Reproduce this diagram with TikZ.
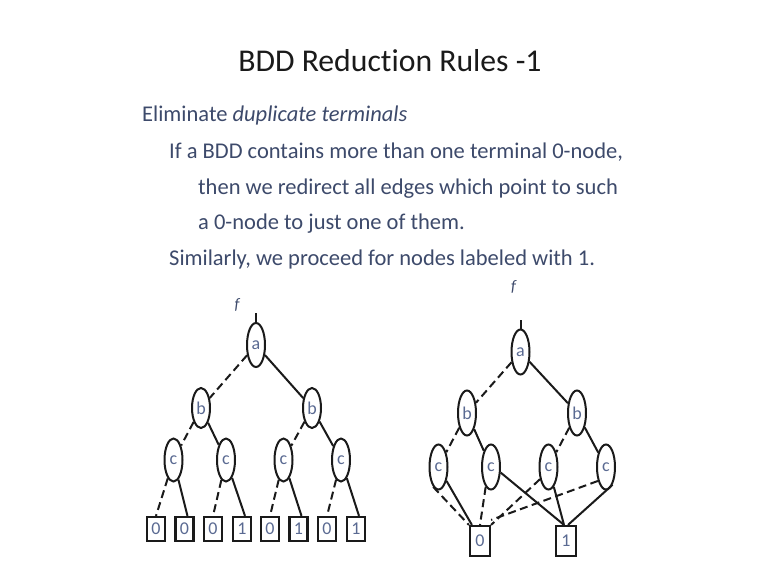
\documentclass[tikz,border=0pt]{standalone}
\usepackage{fontspec}
\setmainfont[Ligatures=NoCommon]{Carlito}
\usetikzlibrary{shapes.geometric}
\definecolor{txt}{HTML}{3D4A6B}
\definecolor{lbl}{HTML}{5A6A92}
\definecolor{ink}{HTML}{1A1A1A}
\tikzset{
  vnode/.style={ellipse, draw=ink, line width=2pt, minimum width=18pt, minimum height=43pt, inner sep=0pt, text=lbl, font=\fontsize{18}{18}\selectfont},
  tnode/.style={rectangle, draw=ink, line width=2.2pt, minimum width=18pt, minimum height=24pt, inner sep=0pt, text=lbl, font=\fontsize{18}{18}\selectfont},
  tnodebig/.style={tnode, minimum width=20pt, minimum height=30pt},
  lo/.style={draw=ink, line width=2pt, dash pattern=on 8pt off 4.5pt},
  hi/.style={draw=ink, line width=2pt},
  body/.style={anchor=base west, text=txt, font=\fontsize{22.5}{22.5}\selectfont, inner sep=0pt},
  flabel/.style={text=txt, font=\fontsize{16}{16}\selectfont\itshape, inner sep=0pt}
}
\begin{document}
\begin{tikzpicture}[x=1pt,y=-1pt]
\useasboundingbox (0,0) rectangle (763,573);
\fill[white] (0,0) rectangle (763,573);
% title and text
\node[anchor=base, text=ink, font=\fontsize{31.7}{32}\selectfont, inner sep=0pt] (title) at (390,71) {BDD Reduction Rules -1};
\node[body] (l1) at (142,121) {Eliminate \textit{duplicate terminals}};
\node[body] (l2) at (169,158) {If a BDD contains more than one terminal 0-node,};
\node[body] (l3) at (198,194) {then we redirect all edges which point to such};
\node[body] (l4) at (198,229) {a 0-node to just one of them.};
\node[body] (l5) at (169,265) {Similarly, we proceed for nodes labeled with 1.};

% ---------- left tree ----------
\node[flabel] (f1) at (237,305) {f};
\coordinate (fa1) at (256,313);
\node[vnode, minimum height=44pt] (a1) at (256,345) {a};
\node[vnode, minimum height=40pt] (b11) at (201,408) {b};
\node[vnode, minimum height=40pt] (b12) at (312,408) {b};
\node[vnode] (c11) at (173.5,460) {c};
\node[vnode] (c12) at (226,460) {c};
\node[vnode] (c13) at (283.5,460) {c};
\node[vnode] (c14) at (341,460) {c};
\node[tnode] (t1) at (156,529) {0};
\node[tnode] (t2) at (184.5,529) {0};
\node[tnode] (t3) at (213,529) {0};
\node[tnode] (t4) at (242,529) {1};
\node[tnode] (t5) at (270,529) {0};
\node[tnode] (t6) at (298.5,529) {1};
\node[tnode] (t7) at (327,529) {0};
\node[tnode] (t8) at (356,529) {1};
\draw[hi] (fa1) -- (a1.north);
\draw[lo] (a1) -- (b11);
\draw[hi] (a1) -- (b12);
\draw[lo] (b11) -- (c11);
\draw[hi] (b11) -- (c12);
\draw[lo] (b12) -- (c13);
\draw[hi] (b12) -- (c14);
\draw[lo] (c11) -- (t1.north);
\draw[hi] (c11) -- ([xshift=3pt]t2.north);
\draw[lo] (c12) -- (t3.north);
\draw[hi] (c12) -- ([xshift=3pt]t4.north);
\draw[lo] (c13) -- (t5.north);
\draw[hi] (c13) -- ([xshift=3pt]t6.north);
\draw[lo] (c14) -- (t7.north);
\draw[hi] (c14) -- ([xshift=3pt]t8.north);

% ---------- right tree ----------
\node[flabel] (f2) at (513.5,287) {f};
\coordinate (fa2) at (520.5,320);
\node[vnode, minimum height=45pt] (a2) at (520.5,352) {a};
\node[vnode, minimum height=45pt] (b21) at (467,413) {b};
\node[vnode, minimum height=45pt] (b22) at (577,413) {b};
\node[vnode, minimum height=45pt] (c21) at (438.5,467) {c};
\node[vnode, minimum height=45pt] (c22) at (491,467) {c};
\node[vnode, minimum height=45pt] (c23) at (548.5,467) {c};
\node[vnode, minimum height=45pt] (c24) at (606,467) {c};
\node[tnodebig] (z0) at (480,541) {0};
\node[tnodebig] (z1) at (566,541) {1};
\draw[hi] (fa2) -- (a2.north);
\draw[lo] (a2) -- (b21);
\draw[hi] (a2) -- (b22);
\draw[lo] (b21) -- (c21);
\draw[hi] (b21) -- (c22);
\draw[lo] (b22) -- (c23);
\draw[hi] (b22) -- (c24);
\draw[lo] (c21.255) -- (z0.north west);
\draw[hi] (c21.300) -- ([xshift=3pt]z0.north west);
\draw[lo] (c22.255) -- (z0.north);
\draw[hi] (c22.330) -- ([xshift=-2pt]z1.north);
\draw[lo] (c23.235) -- (z0.north east);
\draw[hi] (c23.285) -- ([xshift=-2pt]z1.north);
\draw[lo] (c24.240) -- ([yshift=5pt]z0.north east);
\draw[hi] (c24.290) -- ([xshift=2pt]z1.north);
\end{tikzpicture}
\end{document}
